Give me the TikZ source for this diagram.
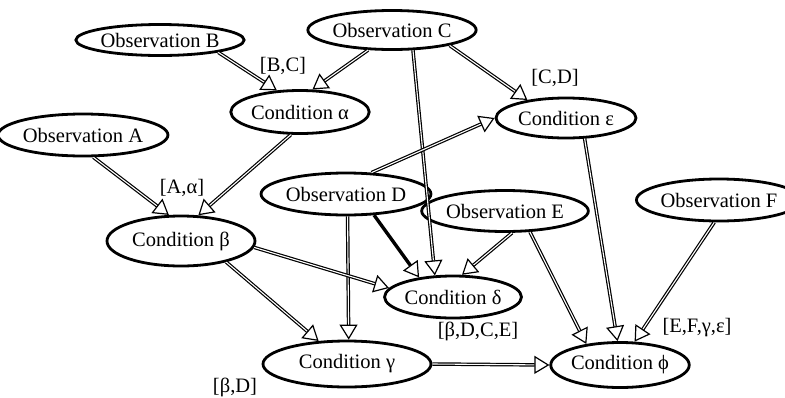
\documentclass[tikz,border=0pt]{standalone}
\usepackage{fontspec}
\setmainfont{Liberation Serif}
\usetikzlibrary{arrows.meta,shapes.geometric}
\begin{document}
\begin{tikzpicture}[x=1pt,y=-1pt,
  state/.style={ellipse, draw, line width=2.8pt, inner sep=0pt,
    font=\fontsize{20.5}{23}\selectfont},
  link/.style={double, line width=1.2pt, double distance=1.1pt,
    -{Triangle[open,length=15pt,width=18pt,line width=1.2pt]}},
  heavy/.style={line width=3.4pt,
    -{Triangle[open,length=15pt,width=18pt,line width=1.2pt]}},
  tag/.style={inner sep=0pt, font=\fontsize{20.5}{23}\selectfont}]
\useasboundingbox (0,0) rectangle (785,397);

% observations
\node[state, minimum width=138pt, minimum height=31pt] (obsB) at (160,40) {Observation B};
\node[state, minimum width=138pt, minimum height=39pt] (obsC) at (392,30) {Observation C};
\node[state, minimum width=136pt, minimum height=42pt] (obsA) at (83,135) {Observation A};
\node[state, minimum width=135pt, minimum height=42pt] (obsD) at (346,194) {Observation D};
\node[state, minimum width=137pt, minimum height=41pt] (obsE) at (505,211) {Observation E};
\node[state, minimum width=126pt, minimum height=42pt] (obsF) at (719,200) {Observation F};

% conditions
\node[state, minimum width=138pt, minimum height=43pt] (cAlpha) at (300,112) {Condition α};
\node[state, minimum width=140pt, minimum height=40pt] (cEps) at (566,118) {Condition ε};
\node[state, minimum width=148pt, minimum height=50pt] (cBeta) at (181,241) {Condition β};
\node[state, minimum width=118pt, minimum height=42pt] (cDelta) at (453,297) {Condition δ};
\node[state, minimum width=168pt, minimum height=46pt] (cGamma) at (347,364) {Condition γ};
\node[state, minimum width=138pt, minimum height=45pt] (cPhi) at (620,365) {Condition ϕ};

% dependency labels
\node[tag] (lBC) at (283,66) {[B,C]};
\node[tag] (lAa) at (182,188) {[A,α]};
\node[tag] (lCD) at (555,78) {[C,D]};
\node[tag] (lBDCE) at (478,331) {[β,D,C,E]};
\node[tag] (lEFge) at (697,328) {[E,F,γ,ε]};
\node[tag] (lBD) at (235,387) {[β,D]};

% connectors
\draw[link] (obsB.-12) -- (cAlpha.137);
\draw[link] (obsC.220) -- (cAlpha.61);
\draw[link] (obsC.-15) -- (cEps.155);
\draw[link] (obsC.-44) -- (cDelta.130);
\draw[link] (obsA.-65) -- (cBeta.115);
\draw[link] (cAlpha.248) -- (cBeta.56);
\draw[link] (obsD.40) -- (cEps.180);
\draw[heavy] (obsD.-37) -- (cDelta.150);
\draw[link] (obsD.-86) -- (cGamma.86);
\draw[link] (cBeta.-5) -- (cDelta.172);
\draw[link] (cBeta.-25) -- (cGamma.141);
\draw[link] (obsE.-72) -- (cDelta.68);
\draw[link] (obsE.-40) -- (cPhi.148);
\draw[link] (cEps.-48) -- (cPhi.96);
\draw[link] (obsF.-102) -- (cPhi.58);
\draw[link] (cGamma.0) -- (cPhi.180);
\end{tikzpicture}
\end{document}
